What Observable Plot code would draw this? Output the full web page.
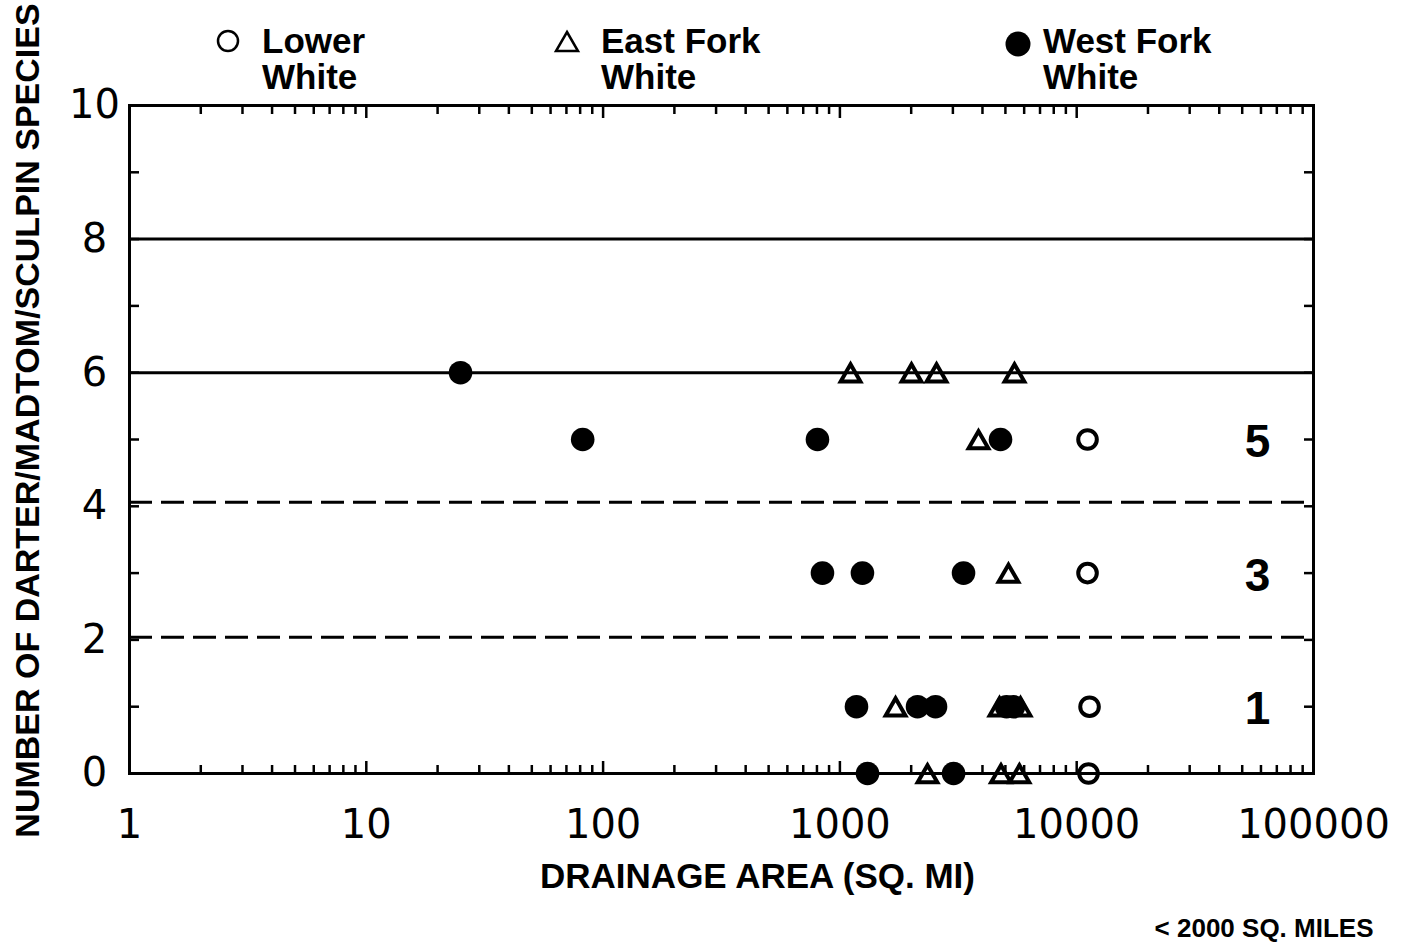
<!DOCTYPE html>
<html>
<head>
<meta charset="utf-8">
<script src="https://cdn.jsdelivr.net/npm/d3@7"></script>
<script src="https://cdn.jsdelivr.net/npm/@observablehq/plot@0.6"></script>
<style>
  body { margin: 0; background: #fff; }
  #wrap { position: relative; width: 1406px; height: 945px; overflow: hidden; background: #fff; }
  #legend { position: absolute; left: 0; top: 0; width: 1406px; height: 100px; z-index: 2;
    font-family: "Liberation Sans", Arial, sans-serif; font-weight: bold; font-size: 35px; line-height: 36px; color: #000; }
  #legend svg { position: absolute; overflow: visible; }
  #legend .lbl { position: absolute; white-space: pre; }
  #chart { position: absolute; left: 0; top: 0; }
</style>
</head>
<body>
<div id="wrap">
  <div id="legend"></div>
  <div id="chart"></div>
</div>
<script>
// Drainage area (sq. mi) and number of darter/madtom/sculpin species per site
const lowerWhiteArea    = [11110, 11110, 11330, 11220];
const lowerWhiteSpecies = [5, 3, 1, 0];

const eastForkArea    = [1109, 2006, 2559, 5460, 3848, 5150, 1718, 4721, 5791, 2344, 4790, 5730];
const eastForkSpecies = [6, 6, 6, 6, 5, 3, 1, 1, 1, 0, 0, 0];

const westForkArea    = [25, 82, 804, 4767, 844, 1245, 3327, 1175, 2127, 2534, 5055, 5410, 1308, 3020];
const westForkSpecies = [6, 5, 5, 5, 3, 3, 3, 1, 1, 1, 1, 1, 0, 0];

// Scoring boundaries
const solidLevels  = [6, 8];
const dashedLevels = [2.04, 4.06];
const zoneScores   = [5, 3, 1];
const zoneLabels   = ["5", "3", "1"];

// Axes
const decadeTicks  = [1, 10, 100, 1000, 10000, 100000];
const decadeLabels = ["1", "10", "100", "1000", "10000", "100000"];
const speciesTicks  = [0, 1, 2, 3, 4, 5, 6, 7, 8, 9, 10];
const speciesLabels = [0, 2, 4, 6, 8, 10];

const xTitle = "DRAINAGE AREA (SQ. MI)";
const yTitle = "NUMBER OF DARTER/MADTOM/SCULPIN SPECIES";
const note   = "< 2000 SQ. MILES";

const legendNames = ["Lower\nWhite", "East Fork\nWhite", "West Fork\nWhite"];

const rows = (areas, counts) => areas.map((a, i) => ({area: a, species: counts[i]}));
const lower = rows(lowerWhiteArea, lowerWhiteSpecies);
const east  = rows(eastForkArea, eastForkSpecies);
const west  = rows(westForkArea, westForkSpecies);
const zones = zoneScores.map((s, i) => ({species: s, label: zoneLabels[i]}));

const minorTicks = decadeTicks.slice(0, -1).flatMap(d => [2, 3, 4, 5, 6, 7, 8, 9].map(m => m * d));
const innerTicks = decadeTicks.slice(1, -1);
const blank = () => "";
const sans = "Liberation Sans, Arial, sans-serif";
const digits = "DejaVu Sans, sans-serif";

const chart = Plot.plot({
  width: 1406,
  height: 945,
  marginLeft: 129,
  marginRight: 93,
  marginTop: 105,
  marginBottom: 172,
  x: {type: "log", domain: [1, 100000]},
  y: {domain: [0, 10]},
  style: {background: "transparent", color: "#000", fontFamily: sans},
  marks: [
    Plot.ruleY(solidLevels, {stroke: "#000", strokeWidth: 3}),
    Plot.ruleY(dashedLevels, {stroke: "#000", strokeWidth: 3, strokeDasharray: "23,9"}),
    Plot.frame({stroke: "#000", strokeWidth: 3}),

    // inward ticks on all four sides
    Plot.axisX({anchor: "bottom", ticks: minorTicks, tickSize: -8, strokeWidth: 2.5, tickFormat: blank, label: null}),
    Plot.axisX({anchor: "top", ticks: minorTicks, tickSize: -8, strokeWidth: 2.5, tickFormat: blank, label: null}),
    Plot.axisX({anchor: "bottom", ticks: innerTicks, tickSize: -12, strokeWidth: 2.5, tickFormat: blank, label: null}),
    Plot.axisX({anchor: "top", ticks: innerTicks, tickSize: -12, strokeWidth: 2.5, tickFormat: blank, label: null}),
    Plot.axisY({anchor: "left", ticks: speciesTicks, tickSize: -10, strokeWidth: 2.5, tickFormat: blank, label: null}),
    Plot.axisY({anchor: "right", ticks: speciesTicks, tickSize: -10, strokeWidth: 2.5, tickFormat: blank, label: null}),

    // tick labels
    Plot.axisX({anchor: "bottom", ticks: decadeTicks, tickSize: 0, tickPadding: 36,
      tickFormat: d => decadeLabels[decadeTicks.indexOf(d)], fontSize: 40, fontFamily: digits, label: null}),
    Plot.axisY({anchor: "left", ticks: speciesLabels, tickSize: 0, tickPadding: 35, textAnchor: "middle",
      tickFormat: d => String(d), fontSize: 40, fontFamily: digits, label: null}),

    // zone scores
    Plot.text(zones, {y: "species", text: "label", frameAnchor: "right", textAnchor: "middle", dx: -56, dy: 3,
      fontSize: 46, fontWeight: "bold", fontFamily: sans}),

    // observations (triangles nudged so their box centres on the value)
    Plot.dot(east, {x: "area", y: "species", symbol: "triangle", r: 7.3, dy: 3, fill: "none", stroke: "#000", strokeWidth: 4}),
    Plot.dot(lower, {x: "area", y: "species", r: 9.3, fill: "none", stroke: "#000", strokeWidth: 4}),
    Plot.dot(west, {x: "area", y: "species", r: 11.8, fill: "#000", stroke: "none"}),

    // titles
    Plot.text([xTitle], {text: d => d, frameAnchor: "bottom", textAnchor: "middle", lineAnchor: "middle", dx: 36, dy: 103,
      fontSize: 35, fontWeight: "bold", fontFamily: sans}),
    Plot.text([yTitle], {text: d => d, frameAnchor: "left", textAnchor: "middle", lineAnchor: "middle", rotate: -90, dx: -101, dy: -19,
      fontSize: 34, fontWeight: "bold", fontFamily: sans}),
    Plot.text([note], {text: d => d, frameAnchor: "bottom-right", textAnchor: "end", lineAnchor: "middle", dx: 60, dy: 155,
      fontSize: 26, fontWeight: "bold", fontFamily: sans})
  ]
});
document.getElementById("chart").appendChild(chart);

// Legend: symbol keys with two-line labels above the plot frame
const legend = d3.select("#legend");
const keys = [
  {name: legendNames[0], symX: 228, symY: 41, textX: 262, draw: g => g.append("circle").attr("r", 10).attr("fill", "none").attr("stroke", "#000").attr("stroke-width", 2.5)},
  {name: legendNames[1], symX: 567, symY: 42, textX: 601, draw: g => g.append("path").attr("d", "M0,-10L11,9L-11,9Z").attr("fill", "none").attr("stroke", "#000").attr("stroke-width", 2.5)},
  {name: legendNames[2], symX: 1018, symY: 44, textX: 1043, draw: g => g.append("circle").attr("r", 12.5).attr("fill", "#000")}
];
for (const k of keys) {
  const svg = legend.append("svg").attr("width", 40).attr("height", 40)
    .style("left", (k.symX - 20) + "px").style("top", (k.symY - 20) + "px");
  k.draw(svg.append("g").attr("transform", "translate(20,20)"));
  legend.append("div").attr("class", "lbl")
    .style("left", k.textX + "px").style("top", "23px").text(k.name);
}
</script>
</body>
</html>
